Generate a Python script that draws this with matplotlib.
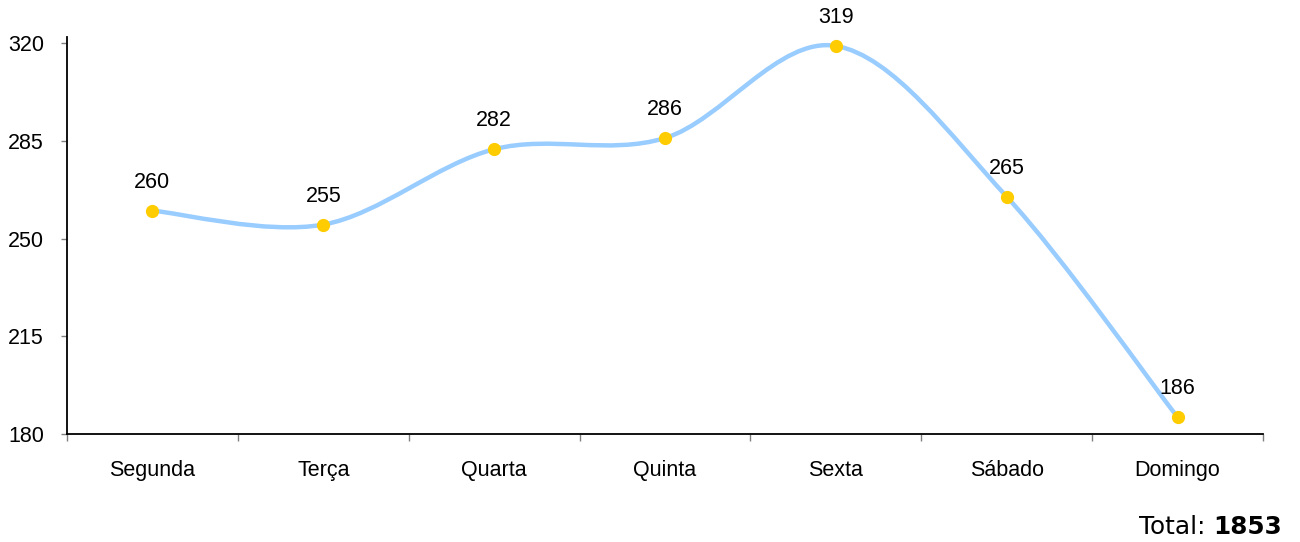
import numpy as np
import matplotlib
matplotlib.use("Agg")
import matplotlib.pyplot as plt
from matplotlib.path import Path
from matplotlib.patches import PathPatch

categories = ["Segunda", "Terça", "Quarta", "Quinta", "Sexta", "Sábado", "Domingo"]
values = [260, 255, 282, 286, 319, 265, 186]
total_value = 1853
y_ticks = [180, 215, 250, 285, 320]

line_color = "#99CCFF"
marker_color = "#FFCC00"
fs = 15.5

fig = plt.figure(figsize=(13, 5.42), dpi=100)
ax = fig.add_axes([67/1300, 108/542, (1263-67)/1300, (434-37)/542])

x = np.arange(len(values))
y = np.array(values, dtype=float)

# Smoothed line (Bezier through points, like Excel's smoothed line)
verts = [(x[0], y[0])]
codes = [Path.MOVETO]
n = len(x)
for i in range(n - 1):
    p0 = np.array([x[max(i-1, 0)], y[max(i-1, 0)]])
    p1 = np.array([x[i], y[i]])
    p2 = np.array([x[i+1], y[i+1]])
    p3 = np.array([x[min(i+2, n-1)], y[min(i+2, n-1)]])
    c1 = p1 + (p2 - p0) / 6.0
    c2 = p2 - (p3 - p1) / 6.0
    verts += [tuple(c1), tuple(c2), tuple(p2)]
    codes += [Path.CURVE4] * 3
patch = PathPatch(Path(verts, codes), facecolor="none", edgecolor=line_color,
                  lw=3.2, capstyle="round", joinstyle="round", zorder=2)
ax.add_patch(patch)

ax.plot(x, y, linestyle="none", marker="o", markersize=8.5,
        markerfacecolor=marker_color, markeredgecolor=marker_color, zorder=3)

for xi, yi in zip(x, y):
    ax.annotate(f"{int(yi)}", (xi, yi), xytext=(0, 20.5), textcoords="offset points",
                ha="center", va="center", fontsize=fs, family="Liberation Sans",
                color="black")

ax.set_xlim(-0.5, len(values) - 0.5)
ax.set_ylim(180, 322.2)
ax.set_yticks(y_ticks)
ax.set_yticklabels([str(t) for t in y_ticks])
ax.set_xticks(x)
ax.set_xticklabels(categories)
ax.set_xticks(np.arange(-0.5, len(values)), minor=True)

for s in ["top", "right"]:
    ax.spines[s].set_visible(False)
for s in ["left", "bottom"]:
    ax.spines[s].set_linewidth(1.3)
    ax.spines[s].set_color("black")

ax.tick_params(axis="y", which="major", direction="out", length=4.5, width=1,
               color="#808080", pad=12, labelsize=fs)
ax.tick_params(axis="x", which="major", length=0, pad=18.5, labelsize=fs)
ax.tick_params(axis="x", which="minor", direction="out", length=5, width=1,
               color="#808080")
for lab in ax.get_xticklabels() + ax.get_yticklabels():
    lab.set_family("Liberation Sans")

fig.text(1282/1300, 1 - 527/542, "Total: ", ha="right", va="center", fontsize=17.8,
         family="DejaVu Sans")
t = fig.text(1282/1300, 1 - 527/542, str(total_value), ha="right", va="center",
             fontsize=17.8, fontweight="bold", family="DejaVu Sans")
fig.canvas.draw()
bb = t.get_window_extent()
fig.texts[0].set_x(bb.x0 / fig.bbox.width)

fig.savefig("out.png", dpi=100)
